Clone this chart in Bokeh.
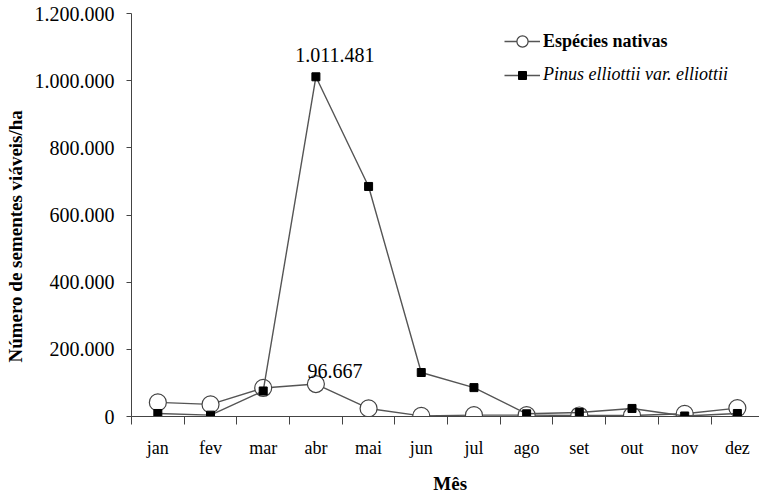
from bokeh.plotting import figure
from bokeh.models import FixedTicker, Legend, LegendItem, Label, ColumnDataSource
from bokeh.embed import file_html
from bokeh.resources import INLINE

months = ["jan", "fev", "mar", "abr", "mai", "jun", "jul", "ago", "set", "out", "nov", "dez"]
nativas = [42000, 36000, 85000, 96667, 24000, 2000, 4000, 4000, 3000, 3000, 8000, 25000]
pinus = [9000, 4000, 76000, 1011481, 685000, 131000, 86000, 8000, 12000, 24000, 1500, 9000]
y_ticks = [0, 200000, 400000, 600000, 800000, 1000000, 1200000]
y_tick_labels = ["0", "200.000", "400.000", "600.000", "800.000", "1.000.000", "1.200.000"]
label_nativas = "Espécies nativas"
label_pinus = "Pinus elliottii var. elliottii"
y_title = "Número de sementes viáveis/ha"
x_title = "Mês"


def fmt(v):
    return f"{v:,}".replace(",", ".")


xs = list(range(len(months)))
FONT = "Liberation Serif"
NB = "\u00a0"

p = figure(width=759, height=496, output_backend="svg", toolbar_location=None,
           x_range=(-0.5, 11.42), y_range=(0, 1200000),
           min_border_left=131, min_border_top=13, min_border_bottom=78, min_border_right=0)
p.outline_line_color = None
p.xgrid.visible = False
p.ygrid.visible = False
p.background_fill_color = "white"
p.border_fill_color = "white"

# x axis
p.xaxis.ticker = FixedTicker(ticks=xs, minor_ticks=[i - 0.5 for i in range(len(months) + 1)])
p.xaxis.major_label_overrides = {i: m for i, m in enumerate(months)}
p.xaxis.major_tick_out = 0
p.xaxis.major_tick_in = 0
p.xaxis.minor_tick_out = 8
p.xaxis.minor_tick_in = 0
p.xaxis.minor_tick_line_color = "#444444"
p.xaxis.axis_line_color = "#444444"
p.xaxis.major_label_standoff = 13
p.xaxis.major_label_text_font = FONT
p.xaxis.major_label_text_font_size = "18px"
p.xaxis.major_label_text_color = "black"
p.xaxis.axis_label = NB * 2 + x_title
p.xaxis.axis_label_standoff = 12
p.xaxis.axis_label_text_font = FONT
p.xaxis.axis_label_text_font_style = "bold"
p.xaxis.axis_label_text_font_size = "19px"
p.xaxis.axis_label_text_color = "black"

# y axis
p.yaxis.ticker = FixedTicker(ticks=y_ticks, minor_ticks=[])
p.yaxis.major_label_overrides = {v: s for v, s in zip(y_ticks, y_tick_labels)}
p.yaxis.major_tick_out = 5
p.yaxis.major_tick_in = 0
p.yaxis.minor_tick_out = 0
p.yaxis.minor_tick_in = 0
p.yaxis.axis_line_color = "#444444"
p.yaxis.major_tick_line_color = "#444444"
p.yaxis.major_label_standoff = 12
p.yaxis.major_label_text_font = FONT
p.yaxis.major_label_text_font_size = "20px"
p.yaxis.major_label_text_color = "black"
p.yaxis.axis_label = y_title + NB * 9
p.yaxis.axis_label_standoff = 6
p.yaxis.axis_label_text_font = FONT
p.yaxis.axis_label_text_font_style = "bold"
p.yaxis.axis_label_text_font_size = "19px"
p.yaxis.axis_label_text_color = "black"

src_n = ColumnDataSource(dict(x=xs, y=nativas))
src_p = ColumnDataSource(dict(x=xs, y=pinus))

ln = p.line("x", "y", source=src_n, line_color="#555555", line_width=1.4)
cn = p.scatter("x", "y", source=src_n, marker="circle", size=17, fill_color="white",
               line_color="#444444", line_width=1.2)
lp = p.line("x", "y", source=src_p, line_color="#555555", line_width=1.4)
sp = p.scatter("x", "y", source=src_p, marker="square", size=8, fill_color="black",
               line_color="black")

# data labels for the peaks
i_p = pinus.index(max(pinus))
i_n = nativas.index(max(nativas))
p.add_layout(Label(x=i_p, y=pinus[i_p], text=fmt(pinus[i_p]), x_offset=19, y_offset=22,
                   text_align="center", text_baseline="middle", text_font=FONT,
                   text_font_size="20px", text_color="black"))
p.add_layout(Label(x=i_n, y=nativas[i_n], text=fmt(nativas[i_n]), x_offset=19, y_offset=13,
                   text_align="center", text_baseline="middle", text_font=FONT,
                   text_font_size="20px", text_color="black"))

# legends
leg1 = Legend(items=[LegendItem(label=label_nativas, renderers=[ln, cn])],
              location=(373, 361), padding=0, margin=0, spacing=0,
              glyph_width=36, glyph_height=28, label_standoff=3,
              label_text_font=FONT, label_text_font_style="bold",
              label_text_font_size="18px", label_text_color="black",
              border_line_color=None, background_fill_alpha=0)
leg2 = Legend(items=[LegendItem(label=label_pinus, renderers=[lp, sp])],
              location=(373, 331), padding=0, margin=0, spacing=0,
              glyph_width=36, glyph_height=20, label_standoff=3,
              label_text_font=FONT, label_text_font_style="italic",
              label_text_font_size="18px", label_text_color="black",
              border_line_color=None, background_fill_alpha=0)
p.add_layout(leg1)
p.add_layout(leg2)

open("out.html", "w").write(file_html(p, INLINE))
